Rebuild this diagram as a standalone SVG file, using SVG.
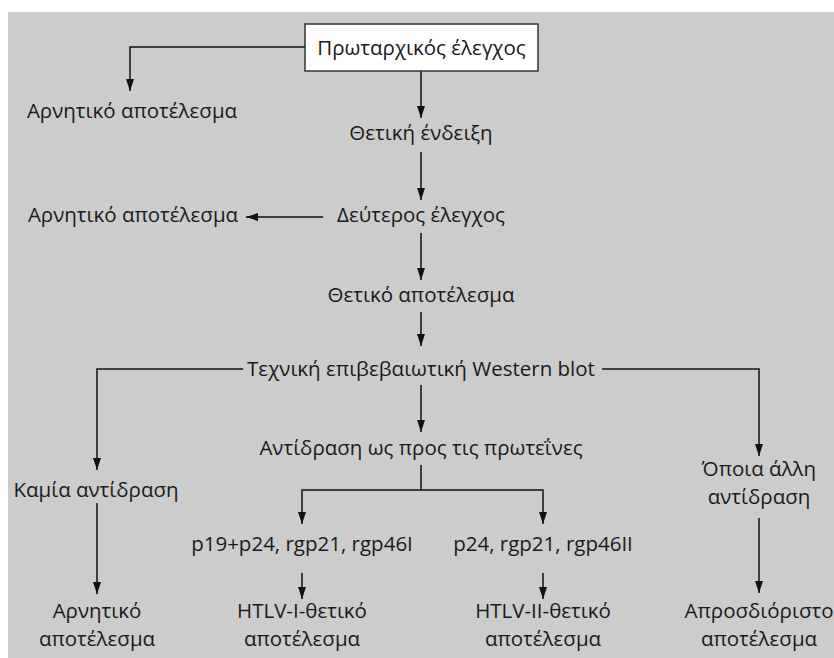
<svg xmlns="http://www.w3.org/2000/svg" width="834" height="658" viewBox="0 0 834 658">
<defs>
<marker id="arr" viewBox="0 0 12 8" refX="12" refY="4" markerWidth="12" markerHeight="8" markerUnits="userSpaceOnUse" orient="auto">
<path d="M0,0 L12,4 L0,8 z" fill="#111"/>
</marker>
<style>
text{font-family:"Open Sans","Liberation Sans",sans-serif;font-size:20.5px;fill:#1a1a1a;text-anchor:middle}
.c{fill:none;stroke:#111;stroke-width:1.5;marker-end:url(#arr)}
.l{fill:none;stroke:#111;stroke-width:1.5}
</style>
</defs>
<rect x="8" y="12" width="826" height="646" fill="#cccccc"/>
<g id="connectors">
<path class="c" d="M305,47 H130 V91"/>
<path class="c" d="M421,71 V118"/>
<path class="c" d="M421,152 V200"/>
<path class="c" d="M323,217 H246"/>
<path class="c" d="M421,233 V280"/>
<path class="c" d="M421,312 V346"/>
<path class="c" d="M243,369 H97 V470"/>
<path class="c" d="M602,369 H759 V456"/>
<path class="c" d="M421,385 V432"/>
<path class="l" d="M421,465 V490"/>
<path class="c" d="M421,490 H302 V524"/>
<path class="c" d="M421,490 H543 V524"/>
<path class="c" d="M302,573 V599"/>
<path class="c" d="M543,573 V599"/>
<path class="c" d="M97,503 V594"/>
<path class="c" d="M759,518 V593"/>
</g>
<g id="n1"><rect x="305" y="24" width="233" height="47" fill="#fff" stroke="#333" stroke-width="1.5"/><text x="421.5" y="55">Πρωταρχικός έλεγχος</text></g>
<g id="n2"><text x="132" y="118">Αρνητικό αποτέλεσμα</text></g>
<g id="n3"><text x="421" y="140">Θετική ένδειξη</text></g>
<g id="n4"><text x="421" y="222">Δεύτερος έλεγχος</text></g>
<g id="n5"><text x="133" y="222">Αρνητικό αποτέλεσμα</text></g>
<g id="n6"><text x="421" y="302">Θετικό αποτέλεσμα</text></g>
<g id="n7"><text x="421" y="376">Τεχνική επιβεβαιωτική Western blot</text></g>
<g id="n8"><text x="421" y="455">Αντίδραση ως προς τις πρωτεΐνες</text></g>
<g id="n9"><text x="96" y="497">Καμία αντίδραση</text></g>
<g id="n10"><text x="759" y="476">Όποια άλλη</text><text x="759" y="504">αντίδραση</text></g>
<g id="n11"><text x="302" y="551">p19+p24, rgp21, rgp46I</text></g>
<g id="n12"><text x="543" y="551">p24, rgp21, rgp46II</text></g>
<g id="n13"><text x="97" y="618">Αρνητικό</text><text x="97" y="646">αποτέλεσμα</text></g>
<g id="n14"><text x="302" y="618">HTLV-I-θετικό</text><text x="302" y="646">αποτέλεσμα</text></g>
<g id="n15"><text x="543" y="618">HTLV-II-θετικό</text><text x="543" y="646">αποτέλεσμα</text></g>
<g id="n16"><text x="759" y="618">Απροσδιόριστο</text><text x="759" y="646">αποτέλεσμα</text></g>
</svg>
